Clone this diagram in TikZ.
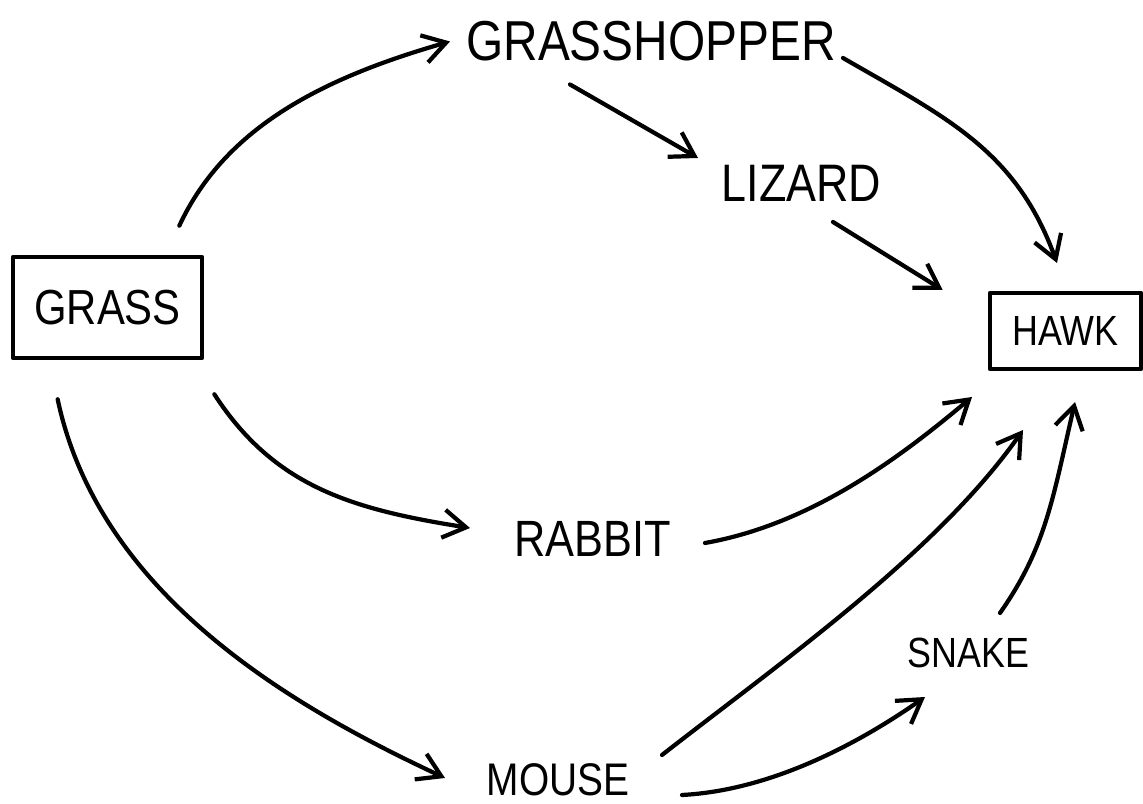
\documentclass[tikz,border=0pt]{standalone}
\usepackage{fontspec}
\newfontfamily\handfont{Liberation Sans}[FakeStretch=0.85]
\usetikzlibrary{arrows.meta}

\begin{document}
\begin{tikzpicture}[x=0.01cm, y=0.01cm, line join=round,
  species/.style={font=\handfont\fontsize{15}{18}\selectfont, inner sep=0pt},
  smallspecies/.style={species, font=\handfont\fontsize{12}{14}\selectfont},
  boxed/.style={draw, line width=1.3pt, inner sep=0pt},
  eats/.style={-{Straight Barb[length=6.5pt,width=8pt]}, line width=1.2pt, line cap=round}]
  \useasboundingbox (0,0) rectangle (1143,804);

  %% Producer and top predator sit in boxes
  \node[species, boxed, font=\handfont\fontsize{14}{18}\selectfont,
        minimum width=1.89cm, minimum height=1.01cm] (grass) at (107.5,496.5) {GRASS};
  \node[smallspecies, boxed, minimum width=1.51cm, minimum height=0.76cm] (hawk) at (1065.5,473) {HAWK};

  %% Consumers in between
  \node[species, font=\handfont\fontsize{16}{18}\selectfont] (grasshopper) at (651,762.5) {GRASSHOPPER};
  \node[species] (lizard) at (801.5,621) {LIZARD};
  \node[species, font=\handfont\fontsize{14.5}{18}\selectfont] (rabbit) at (592.5,265.5) {RABBIT};
  \node[smallspecies, font=\handfont\fontsize{13}{15}\selectfont] (mouse) at (558,24) {MOUSE};
  \node[smallspecies] (snake) at (968.5,151.5) {SNAKE};

  %% Who eats whom
  \draw[eats] ([shift={(-25,29)}]grass.north east)
    .. controls +(65:110) and +(196:130) .. ([shift={(-201,0)}]grasshopper.center);
  \draw[eats] ([shift={(-81,-43)}]grasshopper.center) -- ([shift={(-103.5,25)}]lizard.center);
  \draw[eats] ([shift={(192,-16.5)}]grasshopper.center)
    .. controls +(-30:120) and +(110:120) .. ([shift={(-8.5,68)}]hawk.center);
  \draw[eats] ([shift={(31.5,-39)}]lizard.center) -- ([shift={(-45,41)}]hawk.west);

  \draw[eats] ([shift={(10,-34)}]grass.south east)
    .. controls +(-57:110) and +(171:120) .. ([shift={(-122.5,10.5)}]rabbit.center);
  \draw[eats] ([shift={(112.5,-4.5)}]rabbit.center)
    .. controls +(10:110) and +(220:90) .. ([shift={(-93.5,-66)}]hawk.center);

  \draw[eats] ([shift={(47,-39)}]grass.south west)
    .. controls +(-78:200) and +(155:170) .. ([shift={(-113,2)}]mouse.center);
  \draw[eats] ([shift={(104,25)}]mouse.center)
    .. controls +(38:150) and +(235:150) .. ([shift={(-42.5,-99)}]hawk.center);
  \draw[eats] ([shift={(124,-15)}]mouse.center)
    .. controls +(3:90) and +(215:80) .. ([shift={(-43.5,-44.5)}]snake.center);
  \draw[eats] ([shift={(31.5,39.5)}]snake.center)
    .. controls +(55:80) and +(257:100) .. ([shift={(9.5,-71)}]hawk.center);
\end{tikzpicture}
\end{document}
